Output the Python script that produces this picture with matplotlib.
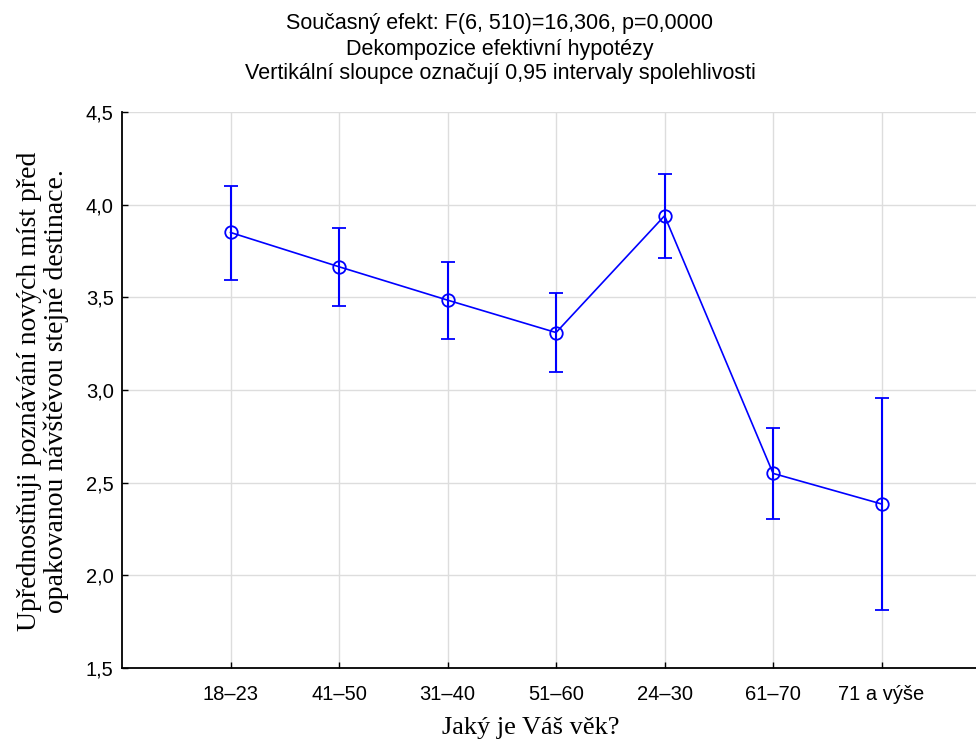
import matplotlib
matplotlib.use("Agg")
import matplotlib.pyplot as plt

# Data
kategorie = ["18–23", "41–50", "31–40", "51–60", "24–30", "61–70", "71 a výše"]
prumery = [3.85, 3.665, 3.485, 3.31, 3.94, 2.55, 2.385]
horni = [4.10, 3.875, 3.69, 3.525, 4.165, 2.795, 2.955]
dolni = [3.595, 3.455, 3.275, 3.095, 3.71, 2.305, 1.815]

titulek = ("Současný efekt: F(6, 510)=16,306, p=0,0000\n"
           "Dekompozice efektivní hypotézy\n"
           "Vertikální sloupce označují 0,95 intervaly spolehlivosti")
popisek_y = "Upřednostňuji poznávání nových míst před\nopakovanou návštěvou stejné destinace."
popisek_x = "Jaký je Váš věk?"

fig = plt.figure(figsize=(9.76, 7.44), dpi=100)
ax = fig.add_axes([122 / 976, 76 / 744, 1 - 122 / 976, (668 - 112) / 744])

x = list(range(len(kategorie)))
chyba = [[p - d for p, d in zip(prumery, dolni)], [h - p for p, h in zip(prumery, horni)]]
ax.errorbar(x, prumery, yerr=chyba, color="#0000ff", ecolor="#0000ff", lw=1.2,
            elinewidth=1.5, capsize=5, capthick=1.5, marker="o", ms=9,
            mfc="none", mec="#0000ff", mew=1.3, zorder=3)

ax.set_xlim(-1.0, 6.87)
ax.set_ylim(1.5, 4.5)
ax.set_xticks(x)
ax.set_xticklabels(kategorie, family="Liberation Sans", fontsize=14.5)
yt = [1.5, 2.0, 2.5, 3.0, 3.5, 4.0, 4.5]
ax.set_yticks(yt)
ax.set_yticklabels([f"{v:.1f}".replace(".", ",") for v in yt], family="Liberation Sans", fontsize=14.5)
ax.tick_params(direction="in", length=4, width=1)
ax.tick_params(axis="x", pad=12)
ax.tick_params(axis="y", pad=6)
ax.grid(True, color="#dddddd", lw=1)
ax.set_axisbelow(True)
for s in ["top", "right"]:
    ax.spines[s].set_visible(False)
for s in ["left", "bottom"]:
    ax.spines[s].set_linewidth(1.3)

fig.text(531 / 976, 1 - 728 / 744, popisek_x, ha="center", va="center",
         family="Liberation Serif", fontsize=19)
fig.text(43 / 976, 1 - 391 / 744, popisek_y, ha="center", va="center", rotation=90,
         family="Liberation Serif", fontsize=20, linespacing=1.08)

fig.text(500 / 976, 1 - 49 / 744, titulek, ha="center", va="center",
         family="Liberation Sans", fontsize=15.5, linespacing=1.25)

fig.savefig("out.png", dpi=100)
